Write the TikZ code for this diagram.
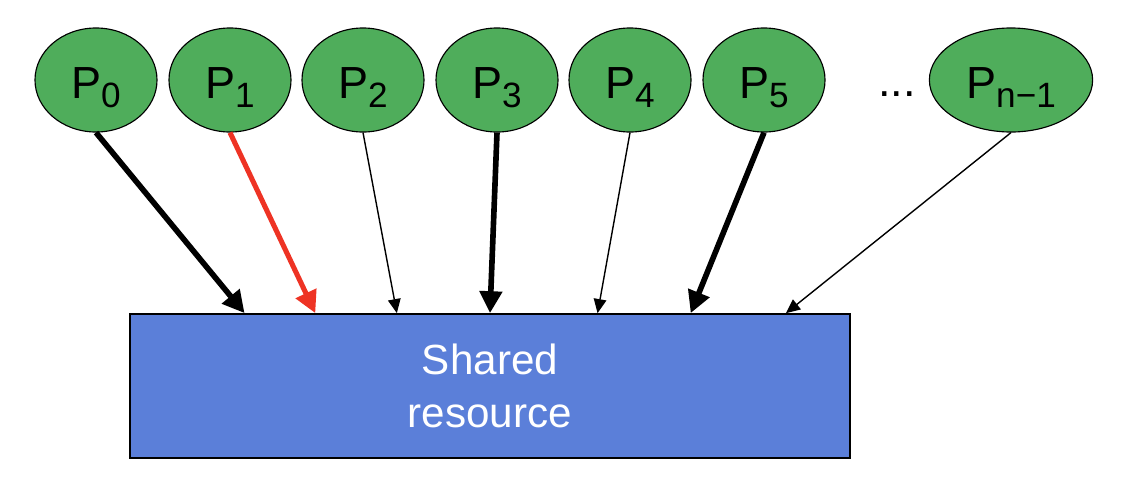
\documentclass[tikz,border=0pt]{standalone}
\usepackage{fontspec}
\setmainfont{Liberation Sans}
\usetikzlibrary{arrows.meta, shapes.geometric, calc}

\definecolor{procgreen}{HTML}{4FAD5B}
\definecolor{resblue}{HTML}{5B7FD9}
\definecolor{hotred}{HTML}{EE3324}

\newcommand{\proc}[1]{P\raisebox{-6.4pt}{\fontsize{25}{25}\selectfont #1}}

\tikzset{
  procnode/.style={draw, ellipse, fill=procgreen, line width=0.8pt, minimum width=3.05cm, minimum height=2.6cm, inner sep=0pt, font=\fontsize{32}{32}\selectfont, text height=33pt, text depth=6.4pt},
  heavy/.style={line width=4pt, -{Triangle[length=15.6pt, width=15.6pt]}},
  light/.style={line width=1pt, -{Triangle[length=10pt, width=9pt]}},
  hot/.style={color=hotred, line width=3.6pt, -{Triangle[length=15.6pt, width=15.6pt]}},
}

\begin{document}
\begin{tikzpicture}[x=0.025cm, y=-0.025cm]
\useasboundingbox (0,0) rectangle (1122,488);
\foreach \i/\x in {0/96,1/230,2/363,3/497,4/630,5/764} {
    \node[procnode] (P\i) at (\x, 80) {\proc{\i}};
}
\node[procnode, minimum width=4.08cm] (Pn) at (1011, 80) {\proc{n−1}};
\node[font=\fontsize{32}{32}\selectfont, anchor=base] (dots) at (897, 96) {...};
\node[draw, fill=resblue, line width=1.2pt, minimum width=18cm, minimum height=3.6cm, text=white, align=center, font=\fontsize{30}{37.7}\selectfont] (res) at (490, 386) {Shared\\resource};
\foreach \s/\f/\st in {P0/.160/heavy, P1/.258/hot, P2/.371/light, P3/.5/heavy, P4/.649/light, P5/.778/heavy, Pn/.910/light} {
    \draw[style=\st] (\s.south) -- ($(res.north west)!\f!(res.north east)$);
}
\end{tikzpicture}
\end{document}
